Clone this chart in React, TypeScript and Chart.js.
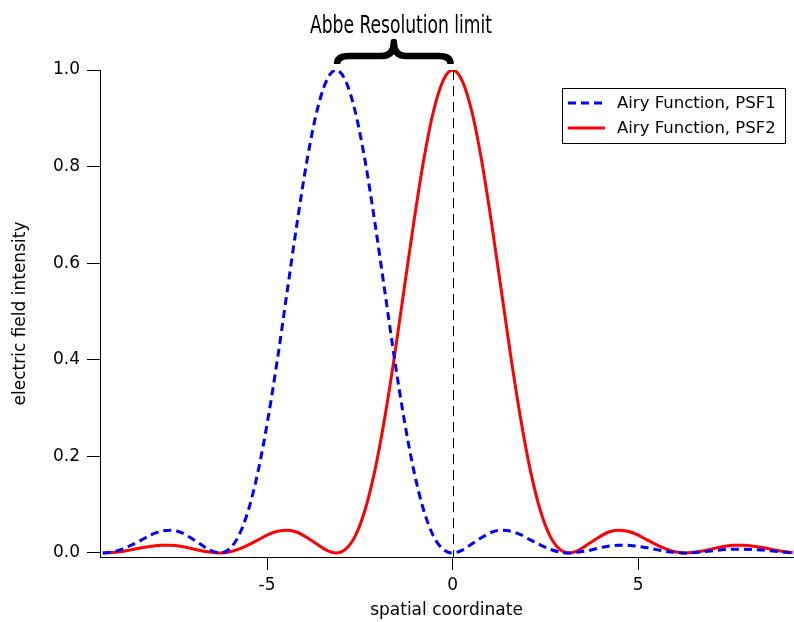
import { useEffect, useRef } from "react";
import { Chart, registerables } from "chart.js";

Chart.register(...registerables);

// x positions of samples (spatial coordinate)
const X_VALUES = [
  -9.425, -9.163, -8.901, -8.639, -8.378, -8.116, -7.854, -7.592, -7.33, -7.069,
  -6.807, -6.545, -6.283, -6.021, -5.76, -5.498, -5.236, -4.974, -4.712, -4.451,
  -4.189, -3.927, -3.665, -3.403, -3.142, -2.88, -2.618, -2.356, -2.094, -1.833,
  -1.571, -1.309, -1.047, -0.785, -0.524, -0.262, 0, 0.262, 0.524, 0.785,
  1.047, 1.309, 1.571, 1.833, 2.094, 2.356, 2.618, 2.88, 3.142, 3.403,
  3.665, 3.927, 4.189, 4.451, 4.712, 4.974, 5.236, 5.498, 5.76, 6.021,
  6.283, 6.545, 6.807, 7.069, 7.33, 7.592, 7.854, 8.116, 8.378, 8.639,
  8.901, 9.163,
];

const PSF1 = [
  0, 0.002, 0.008, 0.017, 0.027, 0.038, 0.045, 0.047, 0.043, 0.032,
  0.019, 0.006, 0, 0.008, 0.036, 0.09, 0.171, 0.278, 0.405, 0.545,
  0.684, 0.811, 0.912, 0.977, 1, 0.977, 0.912, 0.811, 0.684, 0.545,
  0.405, 0.278, 0.171, 0.09, 0.036, 0.008, 0, 0.006, 0.019, 0.032,
  0.043, 0.047, 0.045, 0.038, 0.027, 0.017, 0.008, 0.002, 0, 0.002,
  0.005, 0.01, 0.014, 0.016, 0.016, 0.014, 0.011, 0.007, 0.003, 0.001,
  0, 0.001, 0.003, 0.005, 0.007, 0.008, 0.008, 0.007, 0.006, 0.004,
  0.002, 0,
];

const PSF2 = [
  0, 0.001, 0.003, 0.007, 0.011, 0.014, 0.016, 0.016, 0.014, 0.01,
  0.005, 0.002, 0, 0.002, 0.008, 0.017, 0.027, 0.038, 0.045, 0.047,
  0.043, 0.032, 0.019, 0.006, 0, 0.008, 0.036, 0.09, 0.171, 0.278,
  0.405, 0.545, 0.684, 0.811, 0.912, 0.977, 1, 0.977, 0.912, 0.811,
  0.684, 0.545, 0.405, 0.278, 0.171, 0.09, 0.036, 0.008, 0, 0.006,
  0.019, 0.032, 0.043, 0.047, 0.045, 0.038, 0.027, 0.017, 0.008, 0.002,
  0, 0.002, 0.005, 0.01, 0.014, 0.016, 0.016, 0.014, 0.011, 0.007,
  0.003, 0.001,
];

const SERIES_LABELS = ["Airy Function, PSF1", "Airy Function, PSF2"];
const X_TICKS = [-5, 0, 5];
const Y_TICKS = [0, 0.2, 0.4, 0.6, 0.8, 1.0];
const TITLE = "Abbe Resolution limit";
const X_TITLE = "spatial coordinate";
const Y_TITLE = "electric field intensity";
const BRACE_RANGE = [-3.142, 0];
const MARKER_X = 0;

const FONT = '"DejaVu Sans", "Noto Sans", sans-serif';
const BLUE = "#0000ff";
const RED = "#ff0000";

const annotations = {
  id: "annotations",
  afterDatasetsDraw(chart: any) {
    const { ctx, chartArea } = chart;
    const x = chart.scales.x;
    const y = chart.scales.y;
    ctx.save();

    // dashed vertical marker
    const mx = Math.round(x.getPixelForValue(MARKER_X)) + 0.5;
    ctx.strokeStyle = "#000";
    ctx.lineWidth = 1;
    ctx.setLineDash([10, 6]);
    ctx.beginPath();
    ctx.moveTo(mx, y.getPixelForValue(1));
    ctx.lineTo(mx, chartArea.bottom);
    ctx.stroke();
    ctx.setLineDash([]);

    // curly brace
    const x0 = x.getPixelForValue(BRACE_RANGE[0]) + 1;
    const x1 = x.getPixelForValue(BRACE_RANGE[1]) - 2;
    const mid = (x0 + x1) / 2;
    const yEnd = 64;
    const yArm = 56;
    const yTip = 42;
    const r = 12;
    ctx.strokeStyle = "#000";
    ctx.lineWidth = 6.5;
    ctx.lineJoin = "round";
    ctx.lineCap = "butt";
    ctx.beginPath();
    ctx.moveTo(x0, yEnd);
    ctx.quadraticCurveTo(x0, yArm, x0 + r, yArm);
    ctx.lineTo(mid - r, yArm);
    ctx.quadraticCurveTo(mid, yArm, mid, yTip);
    ctx.quadraticCurveTo(mid, yArm, mid + r, yArm);
    ctx.lineTo(x1 - r, yArm);
    ctx.quadraticCurveTo(x1, yArm, x1, yEnd);
    ctx.stroke();

    // title (condensed)
    ctx.fillStyle = "#000";
    ctx.font = '25px "Liberation Sans Narrow", "DejaVu Sans Condensed", "Liberation Sans", sans-serif';
    ctx.textAlign = "center";
    ctx.textBaseline = "alphabetic";
    const w = ctx.measureText(TITLE).width;
    const sx = Math.min(1, 182 / w);
    ctx.translate(401, 33);
    ctx.scale(sx, 1);
    ctx.fillText(TITLE, 0, 0);

    ctx.restore();
  },
  afterDraw(chart: any) {
    const { ctx } = chart;
    ctx.save();
    // legend box
    ctx.fillStyle = "#fff";
    ctx.fillRect(562.5, 88.5, 223, 55);
    ctx.strokeStyle = "#000";
    ctx.lineWidth = 1;
    ctx.strokeRect(562.5, 88.5, 223, 55);
    const rows = [103, 128];
    const colors = [BLUE, RED];
    const dashes = [[8, 5], []];
    ctx.font = `16.5px ${FONT}`;
    ctx.textAlign = "left";
    ctx.textBaseline = "middle";
    SERIES_LABELS.forEach((label, i) => {
      ctx.strokeStyle = colors[i];
      ctx.lineWidth = 3;
      ctx.setLineDash(dashes[i]);
      ctx.beginPath();
      ctx.moveTo(568, rows[i]);
      ctx.lineTo(605, rows[i]);
      ctx.stroke();
      ctx.setLineDash([]);
      ctx.fillStyle = "#000";
      ctx.fillText(label, 617, rows[i] + 1);
    });
    ctx.restore();
  },
};

export default function App() {
  const canvasRef = useRef<HTMLCanvasElement | null>(null);

  useEffect(() => {
    if (!canvasRef.current) return;
    const chart = new Chart(canvasRef.current, {
      type: "line",
      data: {
        datasets: [
          {
            label: SERIES_LABELS[0],
            data: X_VALUES.map((xv, i) => ({ x: xv, y: PSF1[i] })),
            borderColor: BLUE,
            borderWidth: 3,
            borderDash: [8, 5],
            pointRadius: 0,
            cubicInterpolationMode: "monotone",
            fill: false,
          },
          {
            label: SERIES_LABELS[1],
            data: X_VALUES.map((xv, i) => ({ x: xv, y: PSF2[i] })),
            borderColor: RED,
            borderWidth: 3,
            pointRadius: 0,
            cubicInterpolationMode: "monotone",
            fill: false,
          },
        ],
      },
      options: {
        responsive: false,
        animation: false,
        devicePixelRatio: 1,
        layout: { padding: { top: 70, right: 1, left: 0, bottom: 0 } },
        plugins: {
          legend: { display: false },
          tooltip: { enabled: false },
        },
        scales: {
          x: {
            type: "linear",
            min: -9.5,
            max: 9.17,
            afterFit: (s: any) => {
              s.height = 65;
            },
            afterBuildTicks: (s: any) => {
              s.ticks = X_TICKS.map((v) => ({ value: v }));
            },
            ticks: {
              color: "#000",
              font: { family: FONT, size: 17 },
              padding: 5,
              maxRotation: 0,
              callback: (v: any) => String(v),
            },
            grid: {
              drawOnChartArea: false,
              drawTicks: true,
              tickLength: 13,
              color: "#000",
              lineWidth: 1,
            },
            border: { display: true, color: "#000", width: 1 },
            title: {
              display: true,
              text: X_TITLE,
              color: "#000",
              font: { family: FONT, size: 17 },
              padding: { top: 0, bottom: 1 },
            },
          },
          y: {
            type: "linear",
            min: -0.0083,
            max: 1,
            afterFit: (s: any) => {
              s.width = 100;
            },
            afterBuildTicks: (s: any) => {
              s.ticks = Y_TICKS.map((v) => ({ value: v }));
            },
            ticks: {
              color: "#000",
              font: { family: FONT, size: 17 },
              padding: 7,
              callback: (v: any) => Number(v).toFixed(1),
            },
            grid: {
              drawOnChartArea: false,
              drawTicks: true,
              tickLength: 13,
              color: "#000",
              lineWidth: 1,
            },
            border: { display: true, color: "#000", width: 1 },
            title: {
              display: true,
              text: Y_TITLE,
              color: "#000",
              font: { family: FONT, size: 17 },
              padding: { top: 10, bottom: 0 },
            },
          },
        },
      },
      plugins: [annotations],
    });
    return () => chart.destroy();
  }, []);

  return (
    <div style={{ position: "absolute", left: 0, top: 0, width: 794, height: 622, background: "#fff" }}>
      <canvas ref={canvasRef} width={794} height={622} style={{ display: "block", width: 794, height: 622 }} />
    </div>
  );
}
